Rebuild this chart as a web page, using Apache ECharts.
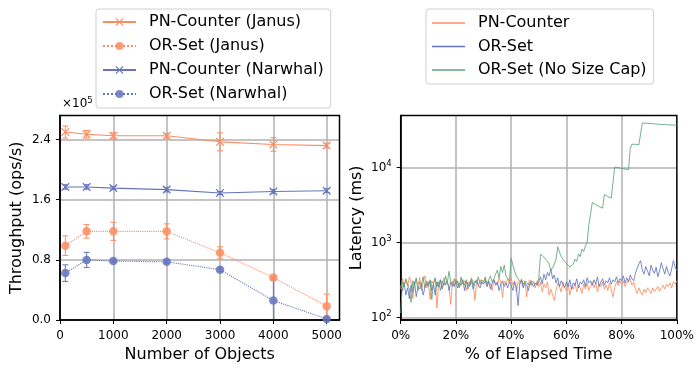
<!DOCTYPE html>
<html>
<head>
<meta charset="utf-8">
<script src="https://cdn.jsdelivr.net/npm/echarts@6.0.0/dist/echarts.min.js"></script>
<style>
  html, body { margin: 0; padding: 0; background: #fff; }
  #chart { width: 697px; height: 368px; }
</style>
</head>
<body>
<div id="chart"></div>
<script>
// left panel: throughput vs number of objects (ops/s)
const objectCounts = [100, 500, 1000, 2000, 3000, 4000, 5000];
const pnJanus = [250000, 247000, 245000, 245000, 237000, 233500, 232000];
const pnJanusErr = [8000, 5000, 4000, 3000, 12000, 9000, 3000];
const orJanus = [99000, 118000, 118000, 118000, 89500, 56500, 18500];
const orJanusErr = [13000, 9000, 12000, 10000, 8000, 2000, 16000];
const pnNarwhal = [177000, 177000, 175500, 173500, 169000, 171000, 172000];
const pnNarwhalErr = [3000, 3000, 2000, 3000, 2000, 2500, 2500];
const orNarwhal = [62500, 80000, 78500, 77500, 67000, 26000, 1500];
const orNarwhalErr = [11000, 10000, 2000, 2000, 2500, 27000, 1000];
const throughputTicks = ['0.0', '0.8', '1.6', '2.4'];

// right panel: latency (ms) sampled evenly over elapsed time
const latPnCounter = [
  240, 330, 280, 310, 260, 350, 300, 180, 290, 320, 270, 340, 230, 300, 360, 250,
  300, 175, 310, 280, 330, 135, 290, 320, 250, 340, 280, 300, 260, 150, 310, 270,
  330, 290, 250, 350, 280, 310, 230, 300, 270, 340, 290, 170, 310, 260, 320, 280,
  300, 350, 260, 310, 280, 230, 320, 290, 270, 340, 300, 185, 310, 280, 330, 290,
  340, 270, 310, 220, 300, 280, 330, 260, 300, 190, 290, 320, 270, 300, 250, 310,
  260, 300, 220, 280, 250, 300, 200, 240, 240, 170, 230, 290, 260, 220, 300, 250,
  230, 280, 200, 260, 240, 290, 220, 270, 250, 210, 280, 240, 290, 230, 260, 300,
  250, 290, 220, 280, 260, 300, 240, 270, 230, 290, 290, 190, 250, 300, 270, 310,
  280, 310, 260, 300, 290, 330, 270, 300, 240, 210, 250, 220, 200, 240, 215, 250,
  230, 210, 250, 220, 240, 260, 225, 250, 270, 240, 280, 260, 290, 250, 300, 280, 310
];
const latOrSet = [
  270, 230, 290, 200, 250, 180, 270, 220, 300, 190, 260, 240, 280, 200, 250, 290,
  260, 310, 230, 280, 200, 300, 260, 320, 240, 290, 270, 310, 230, 300, 280, 260,
  310, 250, 290, 270, 320, 230, 300, 280, 260, 310, 240, 290, 320, 270, 250, 300,
  280, 310, 260, 300, 240, 290, 320, 270, 300, 230, 280, 310, 260, 290, 250, 300,
  270, 230, 300, 260, 145, 280, 310, 250, 290, 270, 230, 300, 280, 260, 290, 270,
  300, 350, 280, 380, 320, 400, 360, 450, 330, 370, 290, 340, 260, 310, 280, 250,
  300, 260, 320, 240, 290, 270, 330, 250, 300, 280, 320, 260, 340, 290, 310, 270,
  320, 280, 350, 260, 300, 330, 270, 310, 290, 340, 280, 320, 300, 350, 290, 330,
  310, 360, 290, 340, 300, 370, 330, 310, 390, 450, 520, 575, 430, 380, 480, 420,
  360, 500, 430, 390, 470, 350, 420, 540, 450, 380, 480, 400, 360, 450, 575, 470, 420
];
const latOrSetNoCap = [
  115, 300, 260, 330, 280, 240, 160, 310, 270, 340, 230, 300, 280, 350, 250, 310,
  280, 320, 175, 290, 340, 260, 300, 230, 310, 270, 360, 290, 415, 300, 260, 330,
  280, 310, 250, 340, 290, 270, 320, 240, 300, 330, 270, 310, 290, 350, 280, 320,
  300, 340, 280, 320, 360, 300, 330, 380, 430, 340, 480, 400, 500, 360, 330, 310,
  620, 500, 420, 360, 330, 300, 320, 280, 310, 290, 300, 270, 310, 290, 300, 280,
  330, 700, 680, 640, 600, 560, 520, 430, 460, 520, 600, 880, 750, 650, 600, 560,
  540, 500, 470, 490, 520, 600, 560, 700, 650, 820, 760, 900, 1000, 1700, 1750, 3400,
  3300, 3200, 3100, 3000, 2950, 2870, 4350, 4200, 4100, 4000, 3900, 3800, 10100, 10000, 9900, 9800,
  9700, 9600, 9500, 9400, 9300, 17800, 20300, 20500, 20300, 20200, 20100, 20000, 39000, 38900, 38700, 38600,
  38400, 38200, 38100, 37900, 37800, 37600, 37400, 37300, 37100, 37000, 36900, 36800, 36700, 36600, 36500, 36400, 36300
];

const ORANGE = '#fc8d62';
const BLUE = '#6475bd';
const GREEN = '#5ca475';
const FONT = 'DejaVu Sans';
const X_MARK = 'path://M1,0L5,4L9,0L10,1L6,5L10,9L9,10L5,6L1,10L0,9L4,5L0,1Z';

const chart = echarts.init(document.getElementById('chart'), null, { renderer: 'canvas' });

function pairs(xs, ys) {
  return xs.map((x, i) => [x, ys[i]]);
}

function errData(xs, ys, es) {
  return xs.map((x, i) => [x, ys[i] - es[i], ys[i] + es[i]]);
}

function timeSeries(ys) {
  const n = ys.length;
  return ys.map((y, i) => [(i * 100) / (n - 1), y]);
}

function renderErr(params, api) {
  const x = api.value(0);
  const top = api.coord([x, api.value(2)]);
  const bot = api.coord([x, api.value(1)]);
  const w = 3;
  const style = { stroke: api.visual('color'), lineWidth: 1 };
  return {
    type: 'group',
    children: [
      { type: 'line', shape: { x1: top[0], y1: top[1], x2: bot[0], y2: bot[1] }, style },
      { type: 'line', shape: { x1: top[0] - w, y1: top[1], x2: top[0] + w, y2: top[1] }, style },
      { type: 'line', shape: { x1: bot[0] - w, y1: bot[1], x2: bot[0] + w, y2: bot[1] }, style },
    ],
  };
}

function errSeries(name, ys, es, color) {
  return {
    name: name + ' err',
    type: 'custom',
    xAxisIndex: 0,
    yAxisIndex: 0,
    renderItem: renderErr,
    itemStyle: { color },
    encode: { x: 0, y: [1, 2] },
    data: errData(objectCounts, ys, es),
    clip: true,
    z: 2,
  };
}

function tputSeries(name, ys, color, pn) {
  return {
    name,
    type: 'line',
    xAxisIndex: 0,
    yAxisIndex: 0,
    data: pairs(objectCounts, ys),
    symbol: pn ? X_MARK : 'circle',
    symbolSize: pn ? 8.5 : 8.5,
    showSymbol: true,
    itemStyle: { color, opacity: pn ? 1 : 0.85 },
    lineStyle: { color, width: 1.1, type: pn ? 'solid' : 'dotted' },
    emphasis: { disabled: true },
    z: 3,
  };
}

function latSeries(name, ys, color) {
  return {
    name,
    type: 'line',
    xAxisIndex: 1,
    yAxisIndex: 1,
    data: timeSeries(ys),
    symbol: 'none',
    itemStyle: { color },
    lineStyle: { color, width: 1, opacity: 0.85 },
    emphasis: { disabled: true },
    clip: true,
  };
}

const tickLabel = { fontSize: 12, fontFamily: FONT, color: '#000' };
const nameStyle = { fontSize: 16, fontFamily: FONT, color: '#000' };
const gridLine = { show: true, showMinLine: false, showMaxLine: false, lineStyle: { color: '#b0b0b0', width: 1.5 } };
const axisLine = { show: true, onZero: false, lineStyle: { color: '#000', width: 1.5 } };
const axisTick = { show: true, length: 4, lineStyle: { color: '#000', width: 1 } };

const legendBase = {
  orient: 'vertical',
  itemWidth: 33,
  itemHeight: 10,
  itemGap: 8,
  padding: [5, 7, 6, 6],
  borderColor: '#d0d0d0',
  borderWidth: 1,
  borderRadius: 3,
  backgroundColor: '#fff',
  textStyle: { fontSize: 16, fontFamily: FONT, color: '#000', padding: [0, 0, 0, 8] },
  selectedMode: false,
};

const option = {
  animation: false,
  backgroundColor: '#fff',
  grid: [
    { left: 60, top: 115.5, width: 279.5, height: 207, show: true, borderColor: '#000', borderWidth: 1.5, z: 3 },
    { left: 400.7, top: 115.5, width: 280, height: 207, show: true, borderColor: '#000', borderWidth: 1.5, z: 3 },
  ],
  legend: [
    Object.assign({}, legendBase, {
      left: 96,
      top: 9,
      data: ['PN-Counter (Janus)', 'OR-Set (Janus)', 'PN-Counter (Narwhal)', 'OR-Set (Narwhal)'],
    }),
    Object.assign({}, legendBase, {
      left: 426,
      top: 9,
      icon: 'rect',
      itemHeight: 1.5,
      itemGap: 7.5,
      padding: [6, 7, 6, 6],
      data: ['PN-Counter', 'OR-Set', 'OR-Set (No Size Cap)'],
    }),
  ],
  graphic: [
    {
      type: 'text',
      left: 62,
      top: 96,
      style: {
        text: '{a|×10}{b|5}',
        rich: {
          a: { fontSize: 12, fontFamily: FONT, fill: '#000' },
          b: { fontSize: 8.5, fontFamily: FONT, fill: '#000', padding: [0, 0, 7, 0] },
        },
      },
    },
  ],
  xAxis: [
    {
      type: 'value',
      gridIndex: 0,
      min: 0,
      max: 5240,
      interval: 1000,
      name: 'Number of Objects',
      nameLocation: 'middle',
      nameGap: 23,
      nameTextStyle: nameStyle,
      axisLine,
      axisTick,
      axisLabel: Object.assign({ margin: 10, showMaxLabel: false, formatter: (v) => String(v) }, tickLabel),
      splitLine: gridLine,
    },
    {
      type: 'value',
      gridIndex: 1,
      min: 0,
      max: 100,
      interval: 20,
      name: '% of Elapsed Time',
      nameLocation: 'middle',
      nameGap: 23,
      nameTextStyle: nameStyle,
      axisLine,
      axisTick,
      axisLabel: Object.assign({ margin: 10, formatter: (v) => v + '%' }, tickLabel),
      splitLine: gridLine,
    },
  ],
  yAxis: [
    {
      type: 'value',
      gridIndex: 0,
      min: 0,
      max: 272000,
      interval: 80000,
      name: 'Throughput (ops/s)',
      nameLocation: 'middle',
      nameGap: 35,
      nameTextStyle: nameStyle,
      axisLine,
      axisTick,
      axisLabel: Object.assign({
        margin: 9,
        showMaxLabel: false,
        formatter: (v) => throughputTicks[Math.round(v / 80000)] || '',
      }, tickLabel),
      splitLine: gridLine,
    },
    {
      type: 'log',
      gridIndex: 1,
      logBase: 10,
      min: 93,
      max: 49000,
      name: 'Latency (ms)',
      nameLocation: 'middle',
      nameGap: 36,
      nameTextStyle: nameStyle,
      axisLine,
      axisTick,
      axisLabel: {
        margin: 9,
        showMinLabel: false,
        showMaxLabel: false,
        formatter: (v) => '{a|10}{b|' + Math.round(Math.log10(v)) + '}',
        rich: {
          a: { fontSize: 12, fontFamily: FONT, color: '#000' },
          b: { fontSize: 8.5, fontFamily: FONT, color: '#000', padding: [0, 0, 7, 0] },
        },
      },
      splitLine: gridLine,
    },
  ],
  series: [
    errSeries('PN-Counter (Janus)', pnJanus, pnJanusErr, ORANGE),
    tputSeries('PN-Counter (Janus)', pnJanus, ORANGE, true),
    errSeries('OR-Set (Janus)', orJanus, orJanusErr, ORANGE),
    tputSeries('OR-Set (Janus)', orJanus, ORANGE, false),
    errSeries('PN-Counter (Narwhal)', pnNarwhal, pnNarwhalErr, BLUE),
    tputSeries('PN-Counter (Narwhal)', pnNarwhal, BLUE, true),
    errSeries('OR-Set (Narwhal)', orNarwhal, orNarwhalErr, BLUE),
    tputSeries('OR-Set (Narwhal)', orNarwhal, BLUE, false),
    latSeries('PN-Counter', latPnCounter, ORANGE),
    latSeries('OR-Set', latOrSet, BLUE),
    latSeries('OR-Set (No Size Cap)', latOrSetNoCap, GREEN),
  ],
};

chart.setOption(option);
</script>
</body>
</html>
